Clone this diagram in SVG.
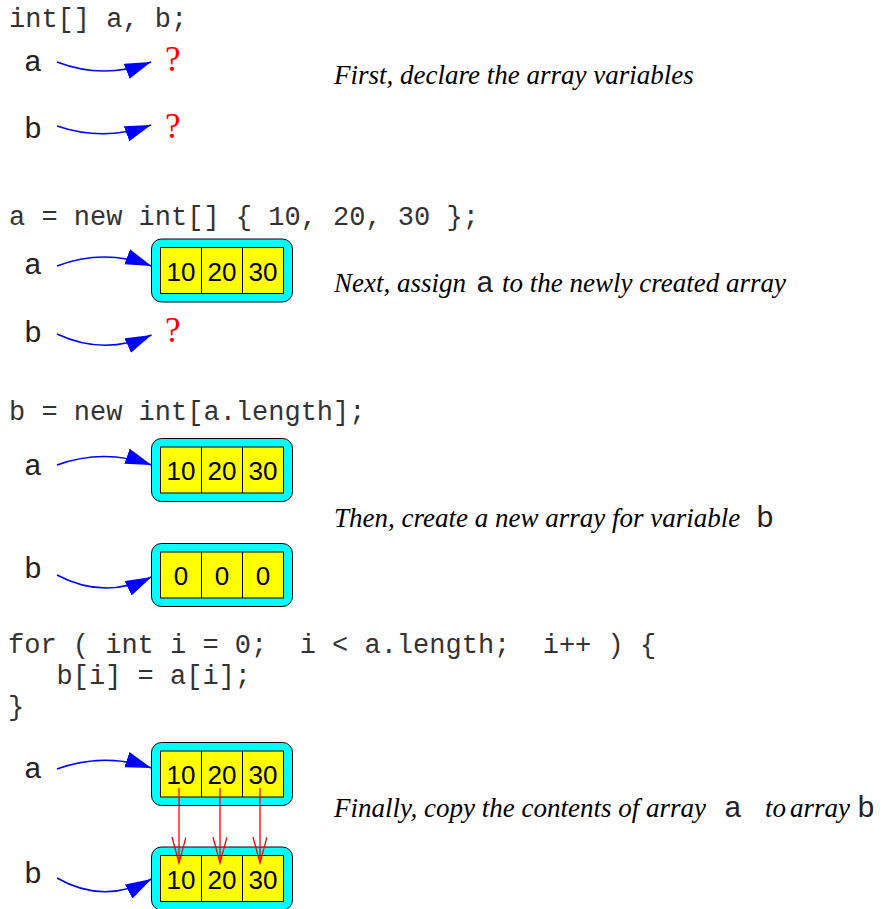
<svg xmlns="http://www.w3.org/2000/svg" width="891" height="909" viewBox="0 0 891 909">
<style>
.code{font-family:"Liberation Mono","Courier New",monospace;font-size:27px;fill:#333}
.lbl{font-family:"Liberation Mono","Courier New",monospace;font-size:30px;fill:#222}
.note{font-family:"Liberation Serif","Times New Roman",serif;font-style:italic;font-size:27px;fill:#000}
.q{font-family:"Liberation Serif","Times New Roman",serif;font-size:35px;fill:#ff0000}
.num{font-family:"Liberation Sans",Arial,sans-serif;font-size:26px;fill:#000;text-anchor:middle}
.outer{fill:#00ffff;stroke:#000;stroke-width:1}
.inner{fill:#ffff00;stroke:#000;stroke-width:1}
.div{stroke:#000;stroke-width:1}
.ref{fill:none;stroke:#0000ff;stroke-width:1.6;marker-end:url(#bh)}
.copy{fill:none;stroke:#ff0000;stroke-width:1.3;marker-end:url(#rh)}
</style>
<defs>
<marker id="bh" markerUnits="userSpaceOnUse" markerWidth="28" markerHeight="18" refX="26" refY="8" orient="auto">
<path d="M0,0 L26,8 L0,16 Z" fill="#0000ff"/>
</marker>
<marker id="rh" markerUnits="userSpaceOnUse" markerWidth="28" markerHeight="16" refX="26" refY="7" orient="auto">
<path d="M0,0 L26,7 L0,14" fill="none" stroke="#ff0000" stroke-width="1.3"/>
</marker>
<g id="arr3">
<rect class="outer" x="0" y="0" width="141" height="63" rx="10"/>
<rect class="inner" x="9" y="8.5" width="123" height="46"/>
<line class="div" x1="50" y1="8.5" x2="50" y2="54.5"/>
<line class="div" x1="91" y1="8.5" x2="91" y2="54.5"/>
</g>
</defs>

<g id="code">
<text class="code" x="9" y="27" xml:space="preserve">int[] a, b;</text>
<text class="code" x="9" y="225" xml:space="preserve">a = new int[] { 10, 20, 30 };</text>
<text class="code" x="9" y="420" xml:space="preserve">b = new int[a.length];</text>
<text class="code" x="8" y="653" xml:space="preserve">for ( int i = 0;  i &lt; a.length;  i++ ) {</text>
<text class="code" x="8" y="684" xml:space="preserve">   b[i] = a[i];</text>
<text class="code" x="8" y="715" xml:space="preserve">}</text>
</g>

<g id="labels">
<text class="lbl" x="24" y="71">a</text>
<text class="lbl" x="24" y="138">b</text>
<text class="lbl" x="24" y="274">a</text>
<text class="lbl" x="24" y="342">b</text>
<text class="lbl" x="24" y="475">a</text>
<text class="lbl" x="24" y="578">b</text>
<text class="lbl" x="24" y="778">a</text>
<text class="lbl" x="24" y="883">b</text>
</g>

<g id="unknowns">
<text class="q" x="165" y="71">?</text>
<text class="q" x="165" y="138">?</text>
<text class="q" x="165" y="342">?</text>
</g>

<g id="array-a1" transform="translate(151.5,239)">
<use href="#arr3"/>
<text class="num" x="29.5" y="41.5">10</text>
<text class="num" x="70.5" y="41.5">20</text>
<text class="num" x="111.5" y="41.5">30</text>
</g>
<g id="array-a2" transform="translate(151.5,438.5)">
<use href="#arr3"/>
<text class="num" x="29.5" y="41.5">10</text>
<text class="num" x="70.5" y="41.5">20</text>
<text class="num" x="111.5" y="41.5">30</text>
</g>
<g id="array-b2" transform="translate(151.5,543.5)">
<use href="#arr3"/>
<text class="num" x="29.5" y="41.5">0</text>
<text class="num" x="70.5" y="41.5">0</text>
<text class="num" x="111.5" y="41.5">0</text>
</g>
<g id="array-a3" transform="translate(151.5,742.5)">
<use href="#arr3"/>
<text class="num" x="29.5" y="41.5">10</text>
<text class="num" x="70.5" y="41.5">20</text>
<text class="num" x="111.5" y="41.5">30</text>
</g>
<g id="array-b3" transform="translate(151.5,847)">
<use href="#arr3"/>
<text class="num" x="29.5" y="41.5">10</text>
<text class="num" x="70.5" y="41.5">20</text>
<text class="num" x="111.5" y="41.5">30</text>
</g>

<g id="connectors">
<path class="ref" d="M57,62 Q104,80 151,62"/>
<path class="ref" d="M57,126 Q104,142 151,125"/>
<path class="ref" d="M57,266 Q104,248 151.5,266"/>
<path class="ref" d="M57,334 Q104,356 151.5,335"/>
<path class="ref" d="M57,465 Q104,448 151.5,465"/>
<path class="ref" d="M57,575 Q104,600 151.5,577"/>
<path class="ref" d="M57,769 Q104,752 151.5,768"/>
<path class="ref" d="M57,878 Q104,905 151.5,879"/>
<path class="copy" d="M179,788 L179,863"/>
<path class="copy" d="M220,788 L220,863"/>
<path class="copy" d="M260,788 L260,863"/>
</g>

<g id="notes">
<text class="note" x="334" y="84">First, declare the array variables</text>
<text class="note" x="334" y="292">Next, assign</text>
<text class="lbl" x="476" y="292">a</text>
<text class="note" x="502" y="292">to the newly created array</text>
<text class="note" x="334" y="527">Then, create a new array for variable</text>
<text class="lbl" x="756" y="527">b</text>
<text class="note" x="334" y="817">Finally, copy the contents of array</text>
<text class="lbl" x="724" y="817">a</text>
<text class="note" x="765" y="817">to</text>
<text class="note" x="790" y="817">array</text>
<text class="lbl" x="857" y="817">b</text>
</g>
</svg>
